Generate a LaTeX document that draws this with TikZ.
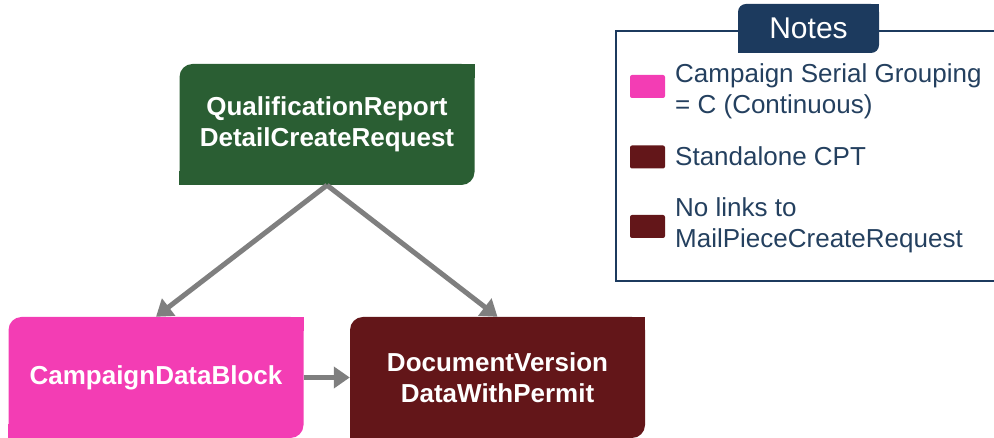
\documentclass[tikz,border=0pt]{standalone}
\usepackage{fontspec}
\setmainfont{Liberation Sans}
\usetikzlibrary{arrows.meta}
\definecolor{qgreen}{HTML}{2A5E33}
\definecolor{cpink}{HTML}{F33DB4}
\definecolor{dmaroon}{HTML}{631619}
\definecolor{linkgray}{HTML}{7F7F7F}
\definecolor{tabnavy}{HTML}{1C3A5E}
\definecolor{notenavy}{HTML}{24405F}

\begin{document}
\begin{tikzpicture}[x=1pt,y=1pt,
    box/.style={fill=#1,text=white,font=\bfseries\fontsize{26}{31}\selectfont,align=center,
      minimum width=295,minimum height=121,inner sep=0,rounded corners=13},
    link/.style={draw=linkgray,line width=5pt,-{Triangle[length=16pt,width=21pt]}},
    swatch/.style={fill=#1,minimum width=35,minimum height=23,inner sep=0,rounded corners=2},
    note/.style={text=notenavy,font=\fontsize{26}{31}\selectfont,align=left,inner sep=0,anchor=west}]
    \useasboundingbox (0,0) rectangle (994,438);
    \clip (0,0) rectangle (994,438);

    % diagram
    \node[box=qgreen] (qual) at (327,313.5) {QualificationReport\\DetailCreateRequest};
    \node[box=cpink] (camp) at (156,60.5) {CampaignDataBlock};
    \node[box=dmaroon] (doc) at (497.5,60.5) {DocumentVersion\\DataWithPermit};
    \foreach \n/\c in {qual/qgreen,camp/cpink,doc/dmaroon}{
        \fill[\c] (\n.north east) rectangle ++(-14,-14);
        \fill[\c] (\n.south west) rectangle ++(14,14);
    }
    \draw[link] (qual.south) -- (camp.north);
    \draw[link] (qual.south) -- (doc.north);
    \draw[link] (camp.east) -- (doc.west);

    % notes
    \draw[tabnavy,line width=2.5pt] (616,407) rectangle (1010,157);
    \node[fill=tabnavy,text=white,font=\fontsize{30}{36}\selectfont,minimum width=141,minimum height=49,
      inner sep=0,rounded corners=8] (tab) at (808.5,409.5) {Notes};
    \fill[tabnavy] (tab.north east) rectangle ++(-9,-9);
    \fill[tabnavy] (tab.south west) rectangle ++(9,9);
    \node[swatch=cpink] (sw1) at (647.5,351.5) {};
    \node[swatch=dmaroon] (sw2) at (647.5,281) {};
    \node[swatch=dmaroon] (sw3) at (647.5,211.5) {};
    \node[note] (n1) at (675,347) {Campaign Serial Grouping\\= C (Continuous)};
    \node[note] (n2) at (675,281.5) {Standalone CPT};
    \node[note] (n3) at (675,213) {No links to\\MailPieceCreateRequest};
\end{tikzpicture}
\end{document}
